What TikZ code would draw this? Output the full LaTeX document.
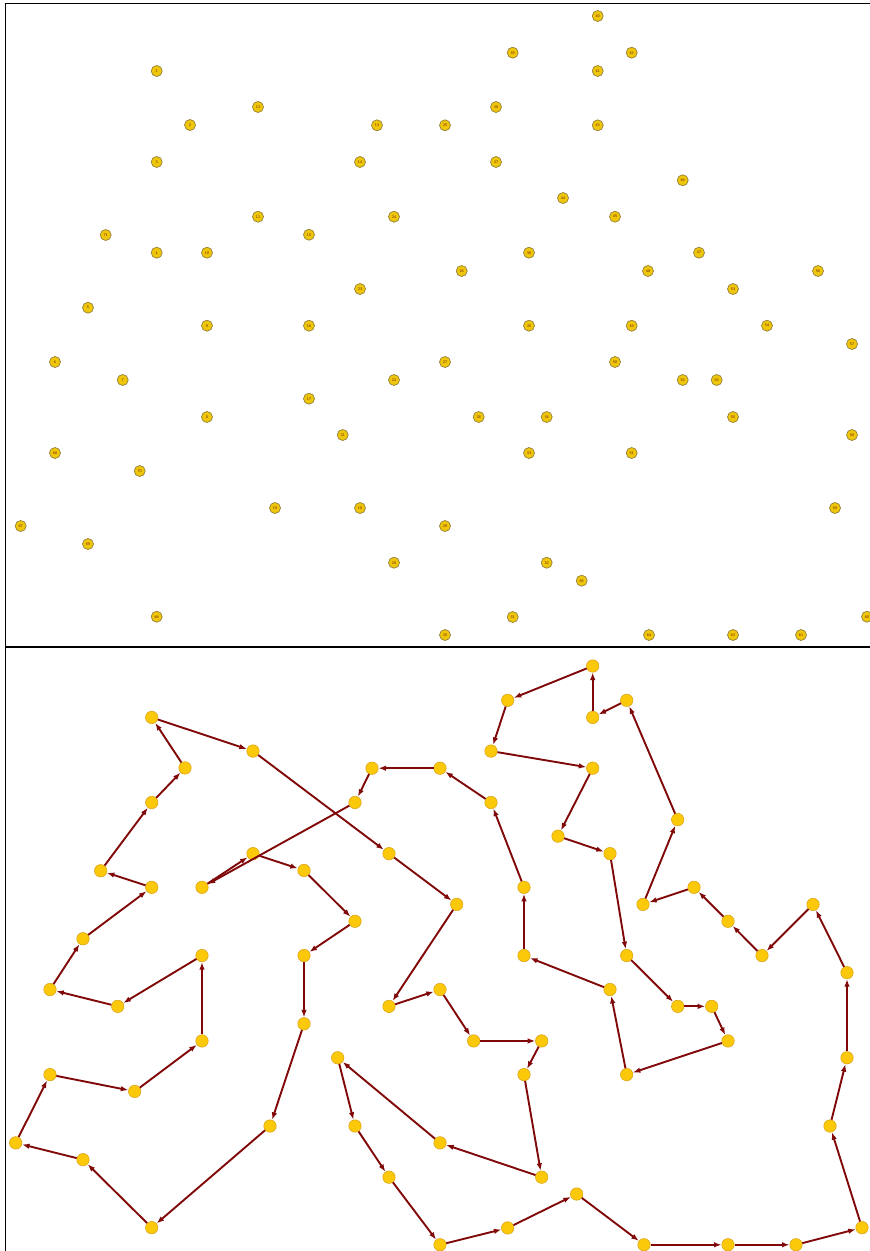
\documentclass[tikz,border=0pt]{standalone}
\usepackage{xcolor}
\usepackage{tikz}
\usetikzlibrary{arrows, arrows.meta}

\definecolor{cityfill}{RGB}{238,198,10}
\definecolor{citybrd}{RGB}{150,128,60}
\definecolor{stopfill}{RGB}{252,200,10}
\definecolor{stopbrd}{RGB}{215,160,20}
\definecolor{tourred}{RGB}{128,8,8}
\definecolor{labelred}{RGB}{120,30,10}

% city number / x / y (pixels of the upper map)
\newcommand\citylist{1/156.7/71, 2/190/125, 3/156.7/162, 4/156.7/252.7, 5/88/307.7,
  6/55/362, 7/122.7/380, 8/207/417, 9/207/325.7, 10/207/252.7, 11/258/216.7,
  12/258/107, 13/377/125.3, 14/360/162, 15/309/234.7, 16/309/325.7, 17/309/398.7,
  18/360/508, 19/275/508, 20/394/562.7, 21/342.7/435, 22/394/380, 23/360/289,
  24/394/216.7, 25/445/125.3, 26/461.7/271, 27/445/362, 28/478.7/417, 29/445/526,
  30/445/635, 31/512.7/617, 32/546.7/562.7, 33/529/453, 34/546.7/417, 35/529/325.7,
  36/529/252.7, 37/496/162, 38/496/107, 39/512.7/52.7, 40/597.7/16, 41/597.7/71,
  42/631.7/52.7, 43/597.7/125.3, 44/563/198, 45/615/216.7, 46/682.7/180.3,
  47/699/252.7, 48/648/271, 49/631.7/325.7, 50/615/362, 51/631.7/453, 52/682.7/380,
  53/733/289, 54/767/325.7, 55/733/417, 56/818/271, 57/852/344, 58/852/435,
  59/835/508, 60/867/616.7, 61/801/635, 62/733/635, 63/716.7/380, 64/649/635,
  65/581.7/580.7, 66/156.7/616.7, 67/20.7/526, 68/55/453, 69/88/544, 70/139.7/471,
  71/105.7/235}

\begin{document}
\begin{tikzpicture}[x=1pt, y=-1pt,
    city/.style={draw=citybrd, fill=cityfill, circle, line width=0.7pt, minimum size=11pt, inner sep=0pt,
      text=labelred, font=\sffamily\fontsize{4}{4.5}\selectfont},
    stop/.style={draw=stopbrd, fill=stopfill, circle, line width=0.5pt, minimum size=12.5pt, inner sep=0pt},
    hop/.style={draw=tourred, line width=1.9pt, -{Latex[length=7.5pt,width=5.5pt]}}
    ]
    \useasboundingbox (0,0) rectangle (870,1251);

    % frame of the two maps
    \draw[line width=1pt] (870,3) -- (5,3) -- (5,1251);
    \draw[line width=2.5pt] (5,647) -- (870,647);

    % upper map: the numbered cities
    \foreach \n/\x/\y in \citylist
      \node [city] (t\n) at (\x,\y) {\n};

    % lower map: same cities, squeezed in height
    \foreach \n/\x/\y in \citylist {
      \pgfmathsetmacro\xb{\x-5}
      \pgfmathsetmacro\yb{666+(\y-16)*0.935}
      \node [stop] (b\n) at (\xb,\yb) {};
    }

    % the tour
    \foreach \a/\b in {1/12, 12/24, 24/26, 26/22, 22/27, 27/28, 28/34, 34/33, 33/32,
        32/29, 29/21, 21/18, 18/20, 20/30, 30/31, 31/65, 65/64, 64/62, 62/61, 61/60,
        60/59, 59/58, 58/57, 57/56, 56/54, 54/53, 53/47, 47/48, 48/46, 46/42, 42/41,
        41/40, 40/39, 39/38, 38/43, 43/44, 44/45, 45/49, 49/52, 52/63, 63/55, 55/51,
        51/50, 50/35, 35/36, 36/37, 37/25, 25/13, 13/14, 14/10, 10/11, 11/15, 15/23,
        23/16, 16/17, 17/19, 19/66, 66/69, 69/67, 67/68, 68/70, 70/8, 8/9, 9/7, 7/6,
        6/5, 5/4, 4/71, 71/3, 3/2, 2/1}
      \draw[hop] (b\a) -- (b\b);

\end{tikzpicture}
\end{document}
